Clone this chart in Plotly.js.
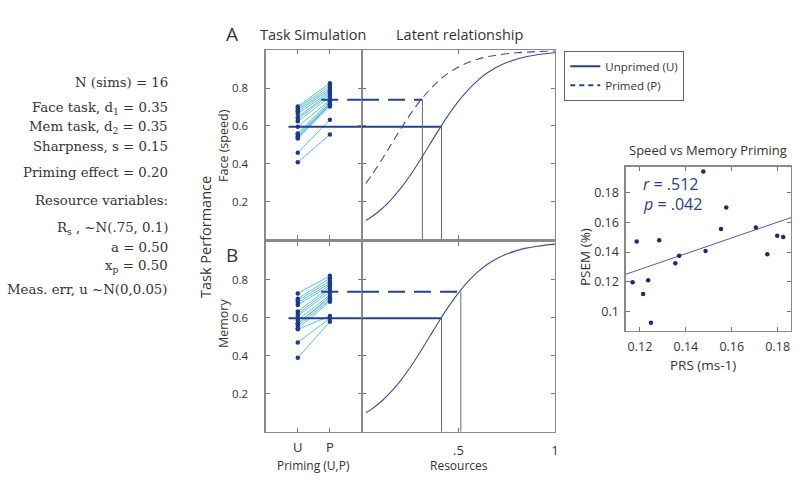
<!DOCTYPE html>
<html>
<head>
<meta charset="utf-8">
<script src="https://cdn.plot.ly/plotly-3.0.1.min.js"></script>
<style>html,body{margin:0;padding:0;background:#fff}#chart{width:800px;height:481px}</style>
</head>
<body>
<div id="chart"></div>
<script>
// ---------- data ----------
const primingCats = [1, 2];
const primingLabels = ['U', 'P'];
const perfTicks = [0.2, 0.4, 0.6, 0.8];
const perfTickLabels = ['0.2', '0.4', '0.6', '0.8'];
const resTicks = [0.5, 1];
const resTickLabels = ['.5', '1'];

// Panel A (face / speed): 16 simulated participants
const faceU = [0.703, 0.695, 0.686, 0.677, 0.665, 0.647, 0.638, 0.624, 0.595, 0.560, 0.554, 0.545, 0.537, 0.533, 0.458, 0.408];
const faceP = [0.826, 0.812, 0.800, 0.791, 0.782, 0.774, 0.765, 0.753, 0.738, 0.730, 0.721, 0.715, 0.712, 0.703, 0.633, 0.554];
// Panel B (memory)
const memU = [0.728, 0.700, 0.690, 0.679, 0.667, 0.632, 0.619, 0.609, 0.588, 0.570, 0.570, 0.558, 0.544, 0.539, 0.470, 0.389];
const memP = [0.821, 0.807, 0.793, 0.781, 0.770, 0.763, 0.751, 0.737, 0.720, 0.711, 0.702, 0.693, 0.684, 0.609, 0.597, 0.579];

// group means (horizontal lines) and resources where they meet the curves
const faceMeans = [0.595, 0.738];      // U, P
const faceRes = [0.412, 0.313];        // U, P
const memMeans = [0.597, 0.737];
const memRes = [0.412, 0.512];
const meanStartU = 0.71;   // on the U/P axis
const meanStartP = 1.73;

// latent relationship curves
const resX = [0.02, 0.05, 0.1, 0.15, 0.2, 0.25, 0.3, 0.35, 0.4, 0.45, 0.5, 0.55, 0.6, 0.65, 0.7, 0.75, 0.8, 0.85, 0.9, 0.95, 1.0];
const unprimedY = [0.100, 0.119, 0.159, 0.209, 0.269, 0.339, 0.417, 0.500, 0.583, 0.661, 0.731, 0.791, 0.841, 0.881, 0.912, 0.935, 0.953, 0.966, 0.975, 0.982, 0.987];
const primedY = [0.296, 0.339, 0.417, 0.500, 0.583, 0.661, 0.731, 0.791, 0.841, 0.881, 0.912, 0.935, 0.953, 0.966, 0.975, 0.982, 0.987, 0.990, 0.993, 0.995, 0.996];

// Speed vs Memory Priming scatter
const prs = [0.1168, 0.1186, 0.1214, 0.1236, 0.1248, 0.1284, 0.1354, 0.1371, 0.1476, 0.1486, 0.1553, 0.1576, 0.1705, 0.1755, 0.1798, 0.1824];
const psem = [0.1197, 0.1470, 0.1119, 0.1211, 0.0926, 0.1479, 0.1325, 0.1376, 0.1940, 0.1407, 0.1555, 0.1698, 0.1564, 0.1385, 0.1510, 0.1501];
const fitX = [0.1138, 0.1858];
const fitY = [0.1251, 0.1631];
const prsTicks = [0.12, 0.14, 0.16, 0.18];
const psemTicks = [0.1, 0.12, 0.14, 0.16, 0.18];
const psemTickLabels = ['0.1', '0.12', '0.14', '0.16', '0.18'];

const paramLines = [
  'N (sims) = 16',
  'Face task, d<sub>1</sub> = 0.35',
  'Mem task, d<sub>2</sub> = 0.35',
  'Sharpness, s = 0.15',
  'Priming effect = 0.20',
  'Resource variables:',
  'R<sub>s</sub> , ~N(.75, 0.1)',
  'a = 0.50',
  'x<sub>p</sub> = 0.50',
  'Meas. err, u ~N(0,0.05)'
];
const paramY = [82, 108, 127, 146, 173, 200, 228, 247, 266, 289];

// ---------- styling ----------
const W = 800, H = 481;
const PX = p => p / W;
const PY = p => 1 - p / H;
const SANS = 'Open Sans, Noto Sans, sans-serif';
const DOT = '#1c3a8f';
const PAIR = '#5cc3d6';
const MEAN = '#24408e';
const CURVE = '#3f4c9e';
const VLINE = '#6a6a6a';
const AXC = '#8a8a8a';
const TXT = '#333333';

function axis(dom, range, opts) {
  return Object.assign({
    domain: dom, range: range, showline: true, linecolor: AXC, linewidth: 1.3,
    mirror: 'ticks', ticks: 'inside', ticklen: 4, tickcolor: '#777', tickwidth: 1,
    showgrid: false, zeroline: false, fixedrange: true,
    tickfont: {family: SANS, size: 11.5, color: TXT}
  }, opts);
}

const traces = [];

function pairTrace(u, p, xa, ya) {
  const xs = [], ys = [];
  for (let i = 0; i < u.length; i++) {
    xs.push(primingCats[0], primingCats[1], null);
    ys.push(u[i], p[i], null);
  }
  traces.push({x: xs, y: ys, xaxis: xa, yaxis: ya, mode: 'lines', line: {color: PAIR, width: 1}, showlegend: false, hoverinfo: 'skip'});
}
function dotTrace(u, p, xa, ya) {
  const xs = u.map(() => primingCats[0]).concat(p.map(() => primingCats[1]));
  traces.push({x: xs, y: u.concat(p), xaxis: xa, yaxis: ya, mode: 'markers', marker: {color: DOT, size: 4.5}, showlegend: false});
}
function meanTraces(means, res, xaL, xaR, yaL, yaR) {
  traces.push({x: [meanStartU, 3], y: [means[0], means[0]], xaxis: xaL, yaxis: yaL, mode: 'lines', line: {color: MEAN, width: 2}, showlegend: false});
  traces.push({x: [0, res[0]], y: [means[0], means[0]], xaxis: xaR, yaxis: yaR, mode: 'lines', line: {color: MEAN, width: 2}, showlegend: false});
  traces.push({x: [meanStartP, 3], y: [means[1], means[1]], xaxis: xaL, yaxis: yaL, mode: 'lines', line: {color: MEAN, width: 2, dash: '17px,9px'}, showlegend: false});
  traces.push({x: [0, res[1]], y: [means[1], means[1]], xaxis: xaR, yaxis: yaR, mode: 'lines', line: {color: MEAN, width: 2, dash: '17px,9px'}, showlegend: false});
  traces.push({x: [res[0], res[0]], y: [0, means[0]], xaxis: xaR, yaxis: yaR, mode: 'lines', line: {color: VLINE, width: 1}, showlegend: false});
  traces.push({x: [res[1], res[1]], y: [0, means[1]], xaxis: xaR, yaxis: yaR, mode: 'lines', line: {color: VLINE, width: 1}, showlegend: false});
}

// Panel A
pairTrace(faceU, faceP, 'x', 'y');
meanTraces(faceMeans, faceRes, 'x', 'x2', 'y', 'y2');
dotTrace(faceU, faceP, 'x', 'y');
traces.push({x: resX, y: unprimedY, xaxis: 'x2', yaxis: 'y2', mode: 'lines', line: {color: CURVE, width: 1.1, shape: 'spline'}, showlegend: false});
traces.push({x: resX, y: primedY, xaxis: 'x2', yaxis: 'y2', mode: 'lines', line: {color: CURVE, width: 1.1, dash: '8px,5px', shape: 'spline'}, showlegend: false});
// Panel B
pairTrace(memU, memP, 'x3', 'y3');
meanTraces(memMeans, memRes, 'x3', 'x4', 'y3', 'y4');
dotTrace(memU, memP, 'x3', 'y3');
traces.push({x: resX, y: unprimedY, xaxis: 'x4', yaxis: 'y4', mode: 'lines', line: {color: CURVE, width: 1.1, shape: 'spline'}, showlegend: false});

// legend entries
traces.push({x: [null], y: [null], xaxis: 'x2', yaxis: 'y2', mode: 'lines', line: {color: MEAN, width: 2}, name: 'Unprimed (U)', showlegend: true});
traces.push({x: [null], y: [null], xaxis: 'x2', yaxis: 'y2', mode: 'lines', line: {color: MEAN, width: 2, dash: '5px,4px'}, name: 'Primed (P)', showlegend: true});

// scatter panel
traces.push({x: fitX, y: fitY, xaxis: 'x5', yaxis: 'y5', mode: 'lines', line: {color: '#4b5cab', width: 1}, showlegend: false});
traces.push({x: prs, y: psem, xaxis: 'x5', yaxis: 'y5', mode: 'markers', marker: {color: '#1a2a78', size: 4.5}, showlegend: false});

const topDom = [PY(239.3), PY(50.3)];
const botDom = [PY(431.7), PY(241.7)];
const leftDom = [PX(265.7), PX(362)];
const rightDom = [PX(362), PX(555)];

const layout = {
  width: W, height: H, margin: {l: 0, r: 0, t: 0, b: 0},
  paper_bgcolor: '#ffffff', plot_bgcolor: '#ffffff',
  showlegend: true,
  legend: {x: PX(564.3), y: PY(50.7), xanchor: 'left', yanchor: 'top', xref: 'paper', yref: 'paper',
    bgcolor: '#ffffff', bordercolor: '#666', borderwidth: 1,
    font: {family: SANS, size: 11.5, color: TXT}, tracegroupgap: 0, itemwidth: 30},
  xaxis: axis(leftDom, [0, 3], {anchor: 'y', tickvals: primingCats, showticklabels: false}),
  yaxis: axis(topDom, [0, 1], {anchor: 'x', tickvals: perfTicks, ticktext: perfTickLabels, ticklabelstandoff: 14}),
  xaxis2: axis(rightDom, [0, 1], {anchor: 'y2', tickvals: resTicks, showticklabels: false}),
  yaxis2: axis(topDom, [0, 1], {anchor: 'x2', tickvals: perfTicks, showticklabels: false}),
  xaxis3: axis(leftDom, [0, 3], {anchor: 'y3', tickvals: primingCats, ticktext: primingLabels, tickfont: {family: SANS, size: 13, color: TXT}, ticklabelstandoff: 3}),
  yaxis3: axis(botDom, [0, 1], {anchor: 'x3', tickvals: perfTicks, ticktext: perfTickLabels, ticklabelstandoff: 14}),
  xaxis4: axis(rightDom, [0, 1], {anchor: 'y4', tickvals: resTicks, ticktext: resTickLabels, tickfont: {family: SANS, size: 13, color: TXT}, ticklabelstandoff: 6}),
  yaxis4: axis(botDom, [0, 1], {anchor: 'x4', tickvals: perfTicks, showticklabels: false}),
  xaxis5: axis([PX(625.7), PX(791)], [0.1138, 0.1858], {anchor: 'y5', tickvals: prsTicks, ticktext: prsTicks.map(String), tickfont: {family: SANS, size: 12.5, color: TXT}, ticklabelstandoff: 4}),
  yaxis5: axis([PY(331), PY(166.7)], [0.0871, 0.1972], {anchor: 'x5', tickvals: psemTicks, ticktext: psemTickLabels, tickfont: {family: SANS, size: 12.5, color: TXT}, ticklabelstandoff: 3}),
  annotations: []
};

function ann(text, x, y, opts) {
  layout.annotations.push(Object.assign({
    text: text, x: PX(x), y: PY(y), xref: 'paper', yref: 'paper', showarrow: false,
    xanchor: 'center', yanchor: 'middle', font: {family: SANS, size: 13, color: TXT}
  }, opts || {}));
}

ann('A', 231.7, 34, {font: {family: SANS, size: 19, color: TXT}});
ann('B', 231.5, 255, {font: {family: SANS, size: 19, color: TXT}});
ann('Task Simulation', 313.3, 34, {font: {family: SANS, size: 14.5, color: TXT}});
ann('Latent relationship', 459, 34, {font: {family: SANS, size: 14.5, color: TXT}});
ann('Face (speed)', 223, 146, {textangle: -90, font: {family: SANS, size: 12.5, color: TXT}});
ann('Memory', 223, 324, {textangle: -90, font: {family: SANS, size: 12.5, color: TXT}});
ann('Task Performance', 205, 237, {textangle: -90, font: {family: SANS, size: 14.5, color: TXT}});
ann('Priming (U,P)', 313.5, 465, {font: {family: SANS, size: 12, color: TXT}});
ann('Resources', 459, 465, {font: {family: SANS, size: 12, color: TXT}});
ann('Speed vs Memory Priming', 708, 150, {font: {family: SANS, size: 13, color: TXT}});
ann('PSEM (%)', 585, 257, {textangle: -90, font: {family: SANS, size: 13.5, color: TXT}});
ann('PRS (ms-1)', 703, 365, {font: {family: SANS, size: 13.5, color: TXT}});
ann('<i>r</i> = .512', 641, 184, {xanchor: 'left', font: {family: SANS, size: 16, color: '#2b3d8f'}});
ann('<i>p</i> = .042', 641, 203.5, {xanchor: 'left', font: {family: SANS, size: 16, color: '#2b3d8f'}});

paramLines.forEach((t, i) => {
  ann(t, 170, paramY[i], {xanchor: 'right', font: {family: 'DejaVu Serif, serif', size: 13.3, color: TXT}});
});

Plotly.newPlot('chart', traces, layout, {staticPlot: true, displayModeBar: false});
</script>
</body>
</html>
